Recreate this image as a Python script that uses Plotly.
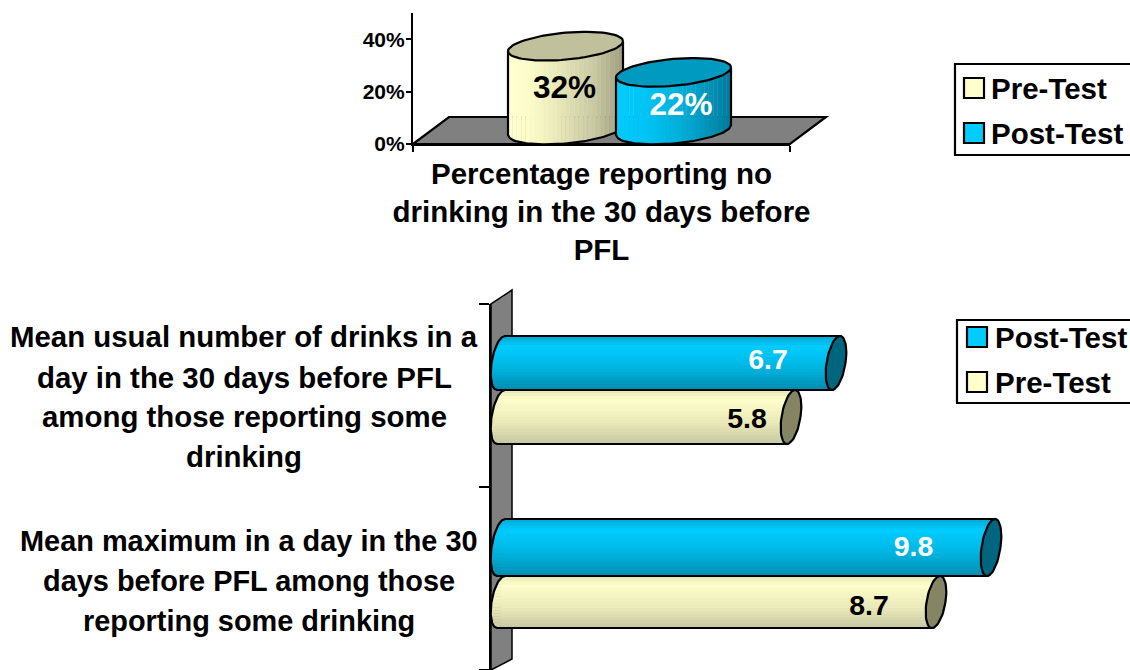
import math
import plotly.graph_objects as go

# ---- data ----
SERIES_TOP = ["Pre-Test", "Post-Test"]
VALUES_TOP = [32, 22]
LABELS_TOP = ["32%", "22%"]
CATEGORY_TOP = "Percentage reporting no<br>drinking in the 30 days before<br>PFL"
TICKS_TOP = [0, 20, 40]

SERIES_BOTTOM = ["Pre-Test", "Post-Test"]
VALUES_PRE = [5.8, 8.7]
VALUES_POST = [6.7, 9.8]
LABELS_PRE = ["5.8", "8.7"]
LABELS_POST = ["6.7", "9.8"]
CATEGORY_LINES = [
    ["Mean usual number of drinks in a", "day in the 30 days before PFL",
     "among those reporting some", "drinking"],
    ["Mean maximum in a day in the 30", "days before PFL among those",
     "reporting some drinking"],
]

# ---- style / layout ----
W, H = 1130, 670
FONT = "Liberation Sans, Arial, sans-serif"
PRE_C, POST_C = "#FFFFCC", "#00CCFF"
PRE_V = [(0, "#FFFFD0"), (.2, "#FBFBCA"), (.45, "#E6E6B8"), (.75, "#C8C8A2"), (1, "#9E9E7E")]
POST_V = [(0, "#00CCFF"), (.25, "#00C4F4"), (.6, "#00ACD6"), (1, "#007A9C")]
PRE_H = [(0, "#E6E6B8"), (.18, "#FFFFCC"), (.6, "#E9E9B9"), (1, "#C8C8A2")]
POST_H = [(0, "#00A8D4"), (.2, "#00CCFF"), (.6, "#00B4E0"), (1, "#008CB0")]
PRE_CAP_TOP, POST_CAP_TOP = "#C0C09C", "#0099BF"
PRE_CAP_END, POST_CAP_END = "#858566", "#006680"
GREY = "#808080"


def lerp(stops, t):
    for (a, ca), (b, cb) in zip(stops, stops[1:]):
        if t <= b:
            f = (t - a) / (b - a)
            rgb = [round(int(ca[i:i+2], 16) * (1 - f) + int(cb[i:i+2], 16) * f) for i in (1, 3, 5)]
            return "rgb(%d,%d,%d)" % tuple(rgb)
    return stops[-1][1]


def px(x):
    return x / W


def py(y):
    return 1 - y / H


fig = go.Figure()
TOP = dict(xaxis="x", yaxis="y")
BOT = dict(xaxis="x2", yaxis="y2")


def poly(xs, ys, fill, axes, outline=None, lw=0.7):
    fig.add_trace(go.Scatter(
        x=xs, y=ys, mode="lines", fill="toself", fillcolor=fill,
        line=dict(color=outline or fill, width=lw), hoverinfo="skip",
        showlegend=False, **axes))


def line(xs, ys, axes, lw=2.2):
    fig.add_trace(go.Scatter(
        x=xs, y=ys, mode="lines", line=dict(color="black", width=lw),
        hoverinfo="skip", showlegend=False, **axes))


# ---- top chart: vertical cylinders ----
K = 2.625          # pixels per percent
A, B, S = 57.5, 13.5, 5.0   # half width, half height, tilt of the ellipse (px)
DEPTH = 14 / K
CENTERS = [565.5, 673.5]
BAR_W = 30
BAR_SHIFT = -20    # the flat bar sits under the deepest part of the round base
fig.add_trace(go.Bar(x=[CENTERS[0] + BAR_SHIFT], y=VALUES_TOP[:1], width=BAR_W, marker=dict(color=PRE_C, line_width=0),
                     name=SERIES_TOP[0], showlegend=False, hoverinfo="skip", **TOP))
fig.add_trace(go.Bar(x=[CENTERS[1] + BAR_SHIFT], y=VALUES_TOP[1:], width=BAR_W, marker=dict(color=POST_C, line_width=0),
                     name=SERIES_TOP[1], showlegend=False, hoverinfo="skip", **TOP))


def front(c, u):
    return c + (S * u - B * math.sqrt(max(0, 1 - u * u))) / K


def cylinder_v(xc, value, stops, cap):
    top, base = value + DEPTH, DEPTH
    n = 26
    for i in range(n):
        u0, u1 = -1 + 2 * i / n, -1 + 2 * (i + 1) / n
        us = [u0 + (u1 - u0) * j / 4 for j in range(5)]
        xs = [xc + A * u for u in us] + [xc + A * u1, xc + A * u0]
        ys = [front(base, u) for u in us] + [top + S * u1 / K, top + S * u0 / K]
        poly(xs, ys, lerp(stops, (i + .5) / n), TOP)
    us = [-1 + 2 * j / 60 for j in range(61)]
    line([xc - A] + [xc + A * u for u in us] + [xc + A],
         [top - S / K] + [front(base, u) for u in us] + [top + S / K], TOP)
    ts = [2 * math.pi * j / 80 for j in range(81)]
    poly([xc + A * math.cos(t) for t in ts],
         [top + (S * math.cos(t) + B * math.sin(t)) / K for t in ts],
         cap, TOP, outline="black", lw=2.2)


cylinder_v(CENTERS[0], VALUES_TOP[0], PRE_V, PRE_CAP_TOP)
cylinder_v(CENTERS[1], VALUES_TOP[1], POST_V, POST_CAP_TOP)
fig.add_trace(go.Scatter(
    x=[564.5, 681], y=[20.5, 14.2], mode="text", text=LABELS_TOP, hoverinfo="skip", showlegend=False,
    textfont=dict(family=FONT, size=31.5, color=["black", "white"], weight="bold"), **TOP))

# ---- bottom chart: horizontal cylinders ----
U = 50.0  # pixels per unit
AH, SK = 9.5, 4.0
ROWS_POST = [(336, 390), (519, 576)]
ROWS_PRE = [(390, 444), (576, 628)]
fig.add_trace(go.Bar(y=[(a + b) / 2 for a, b in ROWS_PRE], x=VALUES_PRE, width=[b - a for a, b in ROWS_PRE],
                     orientation="h", marker=dict(color=PRE_C, line_width=0), name=SERIES_BOTTOM[0],
                     showlegend=False, hoverinfo="skip", **BOT))
fig.add_trace(go.Bar(y=[(a + b) / 2 for a, b in ROWS_POST], x=VALUES_POST, width=[b - a for a, b in ROWS_POST],
                     orientation="h", marker=dict(color=POST_C, line_width=0), name=SERIES_BOTTOM[1],
                     showlegend=False, hoverinfo="skip", **BOT))


def cylinder_h(value, row, stops, cap):
    y0, y1 = row
    cy, h = (y0 + y1) / 2, (y1 - y0) / 2

    def left(v):
        return (-SK * v - AH * math.sqrt(max(0, 1 - v * v))) / U

    n = 18
    for i in range(n):
        v0, v1 = -1 + 2 * i / n, -1 + 2 * (i + 1) / n
        vs = [v0 + (v1 - v0) * j / 4 for j in range(5)]
        xs = [left(v) for v in vs] + [value - SK * v1 / U, value - SK * v0 / U]
        ys = [cy + h * v for v in vs] + [y0 + (y1 - y0) * (i + 1) / n, y0 + (y1 - y0) * i / n]
        poly(xs, ys, lerp(stops, (i + .5) / n), BOT)
    vs = [-1 + 2 * j / 40 for j in range(41)]
    line([value - SK / U * -1] + [left(v) for v in vs] + [value - SK / U],
         [y0] + [cy + h * v for v in vs] + [y1], BOT)
    ts = [2 * math.pi * j / 60 for j in range(61)]
    poly([value + (-SK * math.sin(t) + AH * math.cos(t)) / U for t in ts],
         [cy + h * math.sin(t) for t in ts], cap, BOT, outline="black", lw=2.2)


for k in range(2):
    cylinder_h(VALUES_PRE[k], ROWS_PRE[k], PRE_H, PRE_CAP_END)
    cylinder_h(VALUES_POST[k], ROWS_POST[k], POST_H, POST_CAP_END)

fig.add_trace(go.Scatter(
    x=[VALUES_POST[0] - 1.36, VALUES_PRE[0] - 0.88, VALUES_POST[1] - 1.55, VALUES_PRE[1] - 1.34],
    y=[362, 421, 549, 608], mode="text", hoverinfo="skip", showlegend=False,
    text=[LABELS_POST[0], LABELS_PRE[0], LABELS_POST[1], LABELS_PRE[1]],
    textfont=dict(family=FONT, size=28.5, weight="bold", color=["white", "black", "white", "black"]), **BOT))

# ---- decoration: floor, wall, legends ----
shapes = []


def path_shape(pts, fill, lw=2.2, color="black", layer="below"):
    d = "M " + " L ".join(f"{px(x):.5f},{py(y):.5f}" for x, y in pts) + " Z"
    shapes.append(dict(type="path", path=d, xref="paper", yref="paper", fillcolor=fill,
                       line=dict(color=color, width=lw), layer=layer))


path_shape([(413, 144), (449, 117), (826, 117), (790, 144)], GREY)
path_shape([(491, 304), (512, 290), (512, 659), (491, 670)], GREY, lw=1.5)

annotations = []


def legend(box, entries, text_x, swatch_x):
    x0, y0, y1 = box
    shapes.append(dict(type="rect", xref="paper", yref="paper", x0=px(x0), x1=px(W + 20), y0=py(y0), y1=py(y1),
                       fillcolor="white", line=dict(color="black", width=2.2), layer="above"))
    for name, color, sy in entries:
        shapes.append(dict(type="rect", xref="paper", yref="paper", x0=px(swatch_x), x1=px(swatch_x + 20),
                           y0=py(sy - 10), y1=py(sy + 10), fillcolor=color,
                           line=dict(color="black", width=2.2), layer="above"))
        annotations.append(dict(text=name, xref="paper", yref="paper", x=px(text_x), y=py(sy), xanchor="left",
                                yanchor="middle", showarrow=False, xshift=0,
                                font=dict(family=FONT, size=29.5, color="black", weight="bold")))


legend((955, 64, 155), [(SERIES_TOP[0], PRE_C, 88), (SERIES_TOP[1], POST_C, 133)], 989, 964)
legend((957, 320, 403), [(SERIES_BOTTOM[1], POST_C, 337), (SERIES_BOTTOM[0], PRE_C, 382)], 993, 967)

LINE_Y = [[336, 377, 416, 456], [541, 581, 621]]
LINE_X = [244, 249]
LINE_SIZE = [29.4, 28.9]
for lines, ys, x, size in zip(CATEGORY_LINES, LINE_Y, LINE_X, LINE_SIZE):
    for txt, y in zip(lines, ys):
        annotations.append(dict(text=txt, xref="paper", yref="paper", x=px(x), y=py(y), xanchor="center",
                                yanchor="middle", showarrow=False,
                                font=dict(family=FONT, size=size, color="black", weight="bold")))

fig.update_layout(
    width=W, height=H, margin=dict(l=0, r=0, t=0, b=0, autoexpand=False), paper_bgcolor="white", plot_bgcolor="rgba(0,0,0,0)",
    barmode="overlay", showlegend=False, shapes=shapes, annotations=annotations,
    xaxis=dict(domain=[px(413), px(790)], range=[413, 790], anchor="y", automargin=False, tickmode="array",
               tickvals=[601.5], ticktext=[CATEGORY_TOP], ticks="", showgrid=False, zeroline=False,
               showline=True, linecolor="black", linewidth=2.2, ticklabelstandoff=2,
               tickfont=dict(family=FONT, size=29.5, color="black", weight="bold"),
               minor=dict(tickmode="array", tickvals=[413, 790], ticks="outside", ticklen=6, tickwidth=2, tickcolor="black")),
    yaxis=dict(domain=[py(144), py(13)], range=[0, 50], anchor="x", automargin=False, tickmode="array", tickvals=TICKS_TOP,
               ticktext=[f"{t}%" for t in TICKS_TOP], ticks="outside", ticklen=5, tickwidth=2, tickcolor="black",
               showgrid=False, zeroline=False, showline=True, linecolor="black", linewidth=2.2, ticklabelstandoff=-3,
               tickfont=dict(family=FONT, size=21, color="black", weight="bold")),
    xaxis2=dict(domain=[px(491), 1], range=[-0.2, 12.58], anchor="y2", visible=False, automargin=False),
    yaxis2=dict(domain=[0, py(304)], range=[670, 304], anchor="x2", automargin=False, tickmode="array",
                tickvals=[304, 487, 670], ticktext=["", "", ""], ticks="outside", ticklen=10, tickwidth=2,
                tickcolor="black", showgrid=False, zeroline=False, showline=True, linecolor="black", linewidth=2.2),
)

fig.write_html("out.html", config=dict(displayModeBar=False),
               post_script="document.body.style.margin='0';document.documentElement.style.overflow='hidden';")
